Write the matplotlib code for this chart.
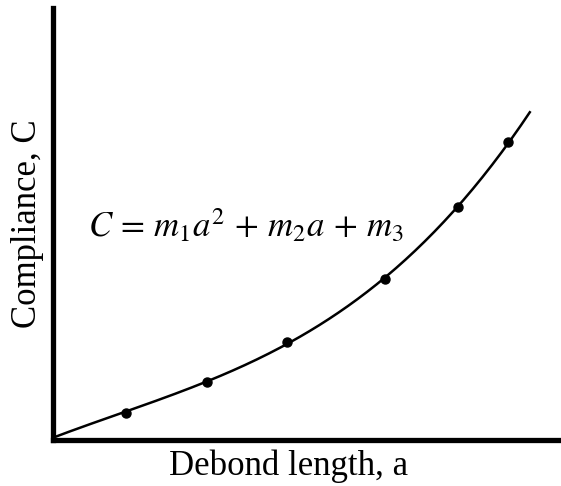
import numpy as np
import matplotlib.pyplot as plt

plt.rcParams['font.family'] = ['Liberation Serif', 'DejaVu Serif']
plt.rcParams['mathtext.fontset'] = 'stix'

# measured compliance vs debond length (arbitrary units)
debond_length = [1.46, 3.08, 4.68, 6.64, 8.12, 9.12]
compliance = [0.675, 1.45, 2.45, 4.03, 5.83, 7.45]

# smooth trend through the origin region and the measurements
fit_x = [0.0] + debond_length
fit_y = [0.07] + compliance
coef = np.polyfit(fit_x, fit_y, 3)
xs = np.linspace(0.0, 9.56, 200)
ys = np.polyval(coef, xs)


def main():
    fig = plt.figure(figsize=(5.61, 4.86), dpi=100)
    ax = fig.add_axes([52.5 / 561, 46 / 486, 505.5 / 561, 432 / 486])

    ax.plot(xs, ys, color='black', lw=1.8, solid_capstyle='butt')
    ax.plot(debond_length, compliance, 'o', color='black', ms=6.5)

    ax.set_xlim(0, 505.5 / 50)
    ax.set_ylim(0, 432 / 40)

    for side in ('top', 'right'):
        ax.spines[side].set_visible(False)
    for side in ('left', 'bottom'):
        ax.spines[side].set_linewidth(3.8)
        ax.spines[side].set_capstyle('projecting')
    ax.set_xticks([])
    ax.set_yticks([])

    ax.set_xlabel('Debond length, a', fontsize=25, labelpad=7)
    ax.xaxis.label.set_x(0.466)
    ax.set_ylabel('Compliance, C', fontsize=25, labelpad=6)

    ax.text(0.72, 5.35, r'$C\,=\,m_1a^2\,+\,m_2a\,+\,m_3$', fontsize=25,
            ha='left', va='center')

    fig.savefig('out.png', dpi=100)


if __name__ == "__main__":
    main()
